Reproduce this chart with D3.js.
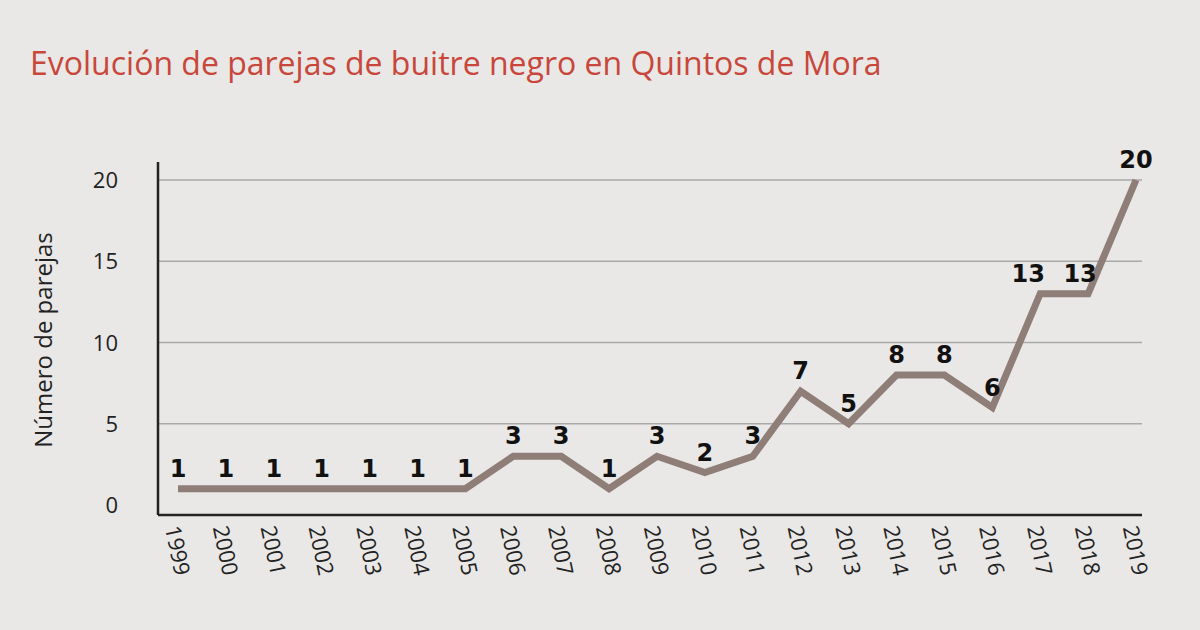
<!DOCTYPE html>
<html>
<head>
<meta charset="utf-8">
<script src="https://cdn.jsdelivr.net/npm/d3@7"></script>
<style>
  body { margin: 0; background: #e9e8e6; }
  svg { display: block; }
</style>
</head>
<body>
<svg id="chart" width="1200" height="630"></svg>
<script>
const years = ["1999","2000","2001","2002","2003","2004","2005","2006","2007","2008","2009",
               "2010","2011","2012","2013","2014","2015","2016","2017","2018","2019"];
const pairs = [1,1,1,1,1,1,1,3,3,1,3,2,3,7,5,8,8,6,13,13,20];
const yTicks = [0,5,10,15,20];

const svg = d3.select("#chart");

svg.append("text")
    .attr("x", 30).attr("y", 75)
    .attr("fill", "#c8473a")
    .attr("font-family", "Open Sans, sans-serif")
    .attr("font-size", 32)
    .text("Evolución de parejas de buitre negro en Quintos de Mora");

const x = d3.scalePoint().domain(years).range([178, 1136]);
const y = d3.scaleLinear().domain([0, 20]).range([505, 180]);

// grid
svg.selectAll("line.grid")
    .data(yTicks.filter(d => d > 0))
    .enter().append("line")
    .attr("x1", 158).attr("x2", 1142)
    .attr("y1", d => y(d)).attr("y2", d => y(d))
    .attr("stroke", "#a9a9a9").attr("stroke-width", 1.5);

// axes lines
svg.append("line").attr("x1", 158).attr("x2", 158).attr("y1", 162).attr("y2", 515)
    .attr("stroke", "#222").attr("stroke-width", 2.5);
svg.append("line").attr("x1", 158).attr("x2", 1142).attr("y1", 515).attr("y2", 515)
    .attr("stroke", "#222").attr("stroke-width", 2.5);

// y tick labels
svg.selectAll("text.ytick")
    .data(yTicks)
    .enter().append("text")
    .attr("x", 118).attr("y", d => y(d) + 8)
    .attr("text-anchor", "end")
    .attr("font-family", "Open Sans, sans-serif")
    .attr("font-size", 22).attr("fill", "#222")
    .text(d => d);

svg.append("text")
    .attr("transform", "translate(52,340) rotate(-90)")
    .attr("text-anchor", "middle")
    .attr("font-family", "Open Sans, sans-serif")
    .attr("font-size", 24).attr("fill", "#222")
    .text("Número de parejas");

// x labels
svg.selectAll("text.xtick")
    .data(years)
    .enter().append("text")
    .attr("transform", d => `translate(${x(d) - 8},${552}) rotate(78)`)
    .attr("text-anchor", "middle")
    .attr("font-family", "Open Sans, sans-serif")
    .attr("font-size", 22).attr("fill", "#222")
    .text(d => d);

// line
const line = d3.line().x((d, i) => x(years[i])).y(d => y(d));
svg.append("path")
    .datum(pairs)
    .attr("d", line)
    .attr("fill", "none")
    .attr("stroke", "#8e7e77")
    .attr("stroke-width", 7)
    .attr("stroke-linejoin", "miter");

// value labels
svg.selectAll("text.val")
    .data(pairs)
    .enter().append("text")
    .attr("x", (d, i) => x(years[i]) + (i === 18 ? -12 : i === 19 ? -8 : 0))
    .attr("y", d => y(d) - 12)
    .attr("text-anchor", "middle")
    .attr("font-family", "DejaVu Sans, sans-serif")
    .attr("font-weight", "bold")
    .attr("font-size", 24).attr("fill", "#111")
    .text(d => d);
</script>
</body>
</html>
